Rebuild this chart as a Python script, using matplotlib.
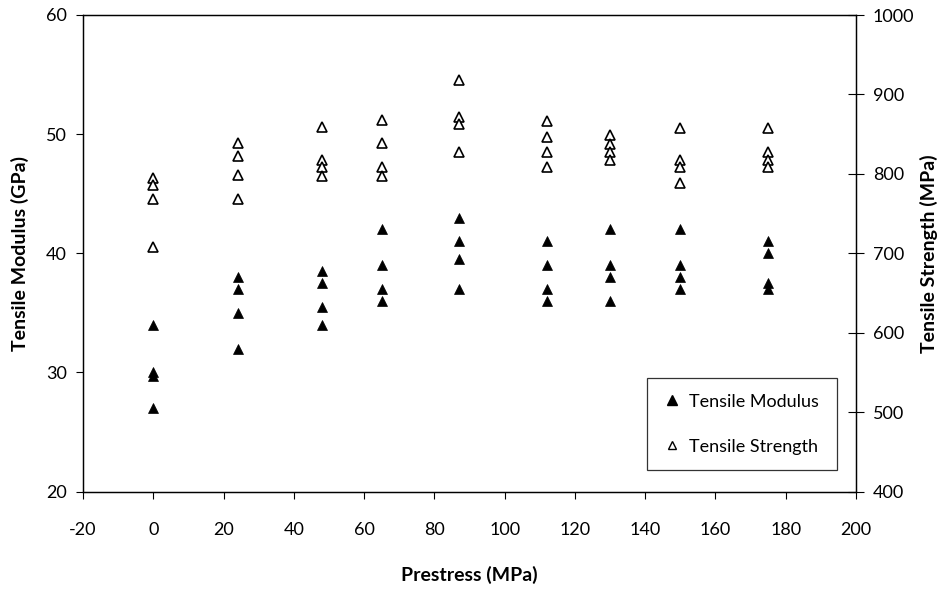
import matplotlib
matplotlib.use("Agg")
import matplotlib.pyplot as plt
from matplotlib.lines import Line2D

plt.rcParams['font.family'] = ['Lato', 'DejaVu Sans']
plt.rcParams['axes.unicode_minus'] = False

# Prestress levels (MPa)
prestress_levels = [0, 24, 48, 65, 87, 112, 130, 150, 175]

# Tensile modulus (GPa), several specimens per prestress level
modulus = [
    [34, 30, 29.7, 27],
    [38, 37, 35, 32],
    [38.5, 37.5, 35.5, 34],
    [42, 39, 37, 36],
    [43, 41, 39.5, 37],
    [41, 39, 37, 36],
    [42, 39, 38, 36],
    [42, 39, 38, 37],
    [41, 40, 37.5, 37],
]

# Tensile strength (MPa)
strength = [
    [795, 786, 768, 708],
    [839, 823, 798, 768],
    [859, 818, 808, 797],
    [868, 839, 808, 797],
    [918, 872, 863, 828],
    [867, 847, 827, 808],
    [849, 837, 827, 817],
    [858, 818, 808, 788],
    [858, 828, 818, 808],
]

mod_x, mod_y, str_x, str_y = [], [], [], []
for p, ms, ss in zip(prestress_levels, modulus, strength):
    mod_x += [p] * len(ms)
    mod_y += ms
    str_x += [p] * len(ss)
    str_y += ss

W, H = 939, 590
L, R, T, B = 83, 856, 15, 491.5
fig = plt.figure(figsize=(W / 100, H / 100), dpi=100)
ax = fig.add_axes([L / W, 1 - B / H, (R - L) / W, (B - T) / H])
ax2 = ax.twinx()

ax.plot(mod_x, mod_y, linestyle='none', marker='^', markersize=7.5,
        markerfacecolor='black', markeredgecolor='black', markeredgewidth=0.5)
ax2.plot(str_x, str_y, linestyle='none', marker='^', markersize=6.8,
         markerfacecolor='white', markeredgecolor='black', markeredgewidth=1.2)

ax.set_xlim(-20, 200)
ax.set_ylim(20, 60)
ax2.set_ylim(400, 1000)
ax.set_xticks(range(-20, 201, 20))
ax.set_yticks([20, 30, 40, 50, 60])
ax2.set_yticks(range(400, 1001, 100))

fs = 13
ax.tick_params(axis='x', direction='out', length=4.8, width=0.8, labelsize=fs, pad=17)
ax.tick_params(axis='y', direction='out', length=5, width=0.8, labelsize=fs, pad=6.5)
ax2.tick_params(axis='y', direction='inout', length=11, width=0.8, labelsize=fs, pad=6.7)

for a in (ax, ax2):
    for s in a.spines.values():
        s.set_linewidth(0.9)
        s.set_color('black')

lfs = 14
ax.set_xlabel('Prestress (MPa)', fontsize=lfs, fontweight='bold')
ax.xaxis.label.set_va('center')
ax.xaxis.set_label_coords(0.5, (B - 575) / (B - T))

ax.set_ylabel('Tensile Modulus (GPa)', fontsize=lfs, fontweight='bold')
ax.yaxis.label.set_va('center')
ax.yaxis.label.set_ha('center')
ax.yaxis.set_label_coords((20 - L) / (R - L), 0.5)

ax2.set_ylabel('Tensile Strength (MPa)', fontsize=lfs, fontweight='bold', rotation=90)
ax2.yaxis.label.set_va('center')
ax2.yaxis.label.set_ha('center')
ax2.yaxis.set_label_coords((929 - L) / (R - L), 0.5)

handles = [
    Line2D([], [], linestyle='none', marker='^', markersize=7,
           markerfacecolor='black', markeredgecolor='black'),
    Line2D([], [], linestyle='none', marker='^', markersize=6,
           markerfacecolor='white', markeredgecolor='black', markeredgewidth=1),
]
bx0 = (647 - L) / (R - L)
bx1 = (837 - L) / (R - L)
by0 = (B - 470) / (B - T)
by1 = (B - 373) / (B - T)
leg = ax2.legend(handles, ['Tensile Modulus', 'Tensile Strength'],
                 loc='lower left', bbox_to_anchor=(bx0, by0, bx1 - bx0, by1 - by0),
                 mode='expand', fontsize=13, frameon=True, fancybox=False,
                 edgecolor='black', labelspacing=1.6, handletextpad=0.35,
                 handlelength=1.1, borderpad=0.85, borderaxespad=0)
leg.get_frame().set_linewidth(0.9)

fig.savefig('out.png', dpi=100)
